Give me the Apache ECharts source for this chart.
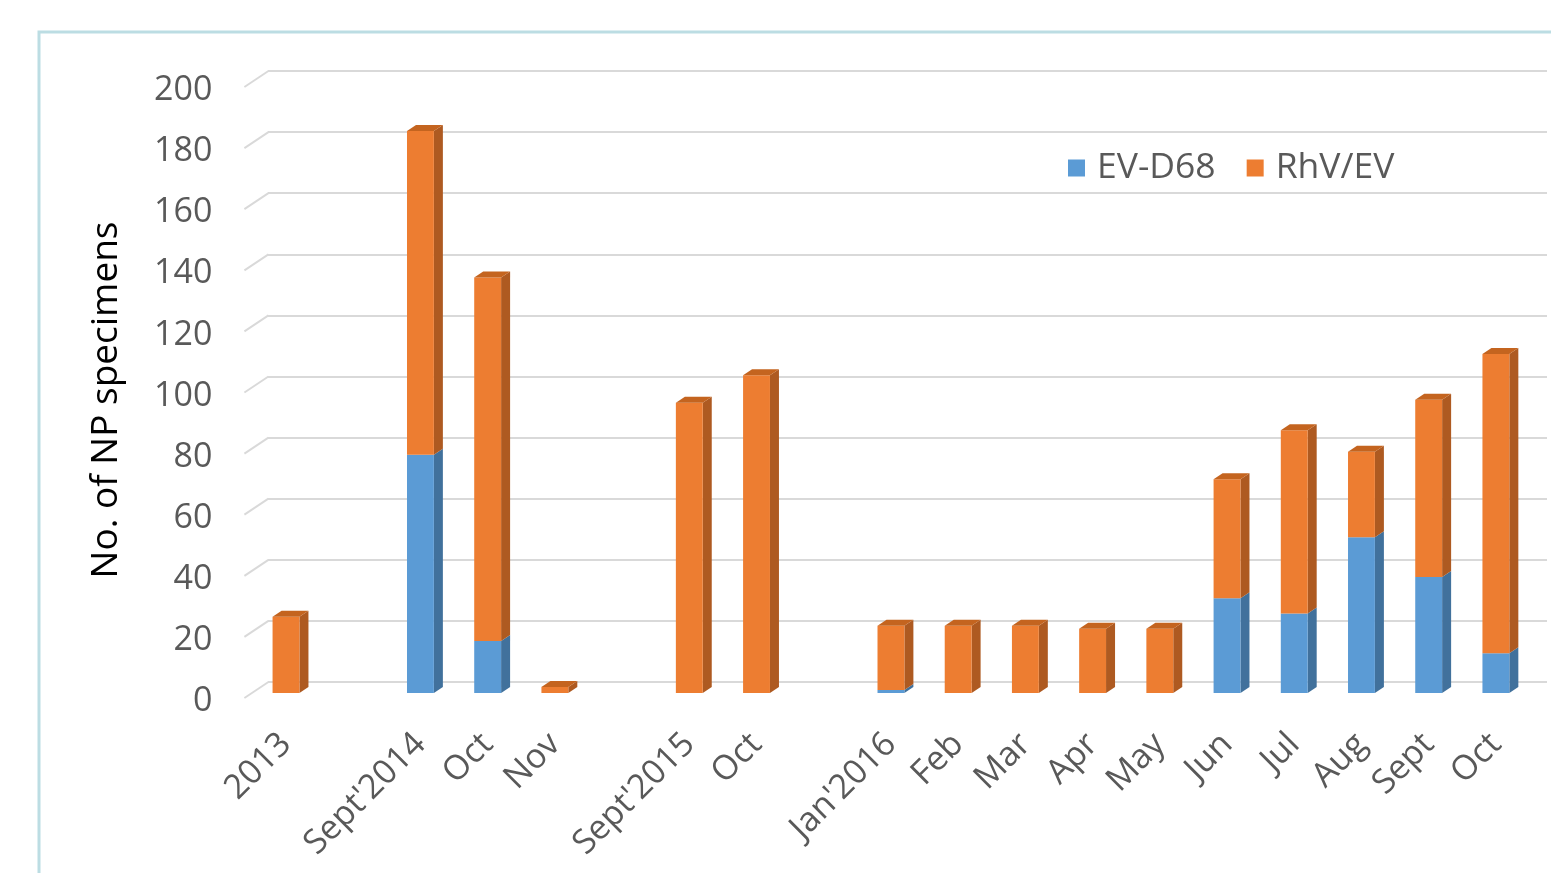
<!DOCTYPE html>
<html lang="en">
<head>
<meta charset="UTF-8">
<title>EV-D68 and RhV/EV NP specimens</title>
<script src="https://cdn.jsdelivr.net/npm/echarts@6/dist/echarts.min.js"></script>
<style>
    html, body { margin: 0; padding: 0; background: #fff; }
    #chart { width: 1551px; height: 873px; }
</style>
</head>
<body>
<div id="chart"></div>
<script>
    // categories, blank ones are the gaps between seasons
    const categories = ['2013', '', "Sept'2014", 'Oct', 'Nov', '', "Sept'2015", 'Oct', '',
        "Jan'2016", 'Feb', 'Mar', 'Apr', 'May', 'Jun', 'Jul', 'Aug', 'Sept', 'Oct'];
    const evD68 = [0, null, 78, 17, 0, null, 0, 0, null, 1, 0, 0, 0, 0, 31, 26, 51, 38, 13];
    const rhvEv = [25, null, 106, 119, 2, null, 95, 104, null, 21, 22, 22, 21, 21, 39, 60, 28, 58, 98];
    const yTicks = [0, 20, 40, 60, 80, 100, 120, 140, 160, 180, 200];

    const FONT = 'Open Sans';
    const LABEL_COLOR = '#595959';
    const GRID_COLOR = '#D9D9D9';
    const DX = 9, DY = -6; // depth of the 3d bars

    // [index, from, to, isTopSegment]
    function stackRows(lower, upper, isUpper) {
        let rows = [];
        categories.forEach(function (c, i) {
            if (upper[i] == null) return;
            let base = isUpper ? (lower[i] || 0) : 0;
            rows.push([i, base, base + upper[i], isUpper ? 1 : 0]);
        });
        return rows;
    }

    function barItem(front, side, top) {
        return function (params, api) {
            let i = api.value(0), lo = api.value(1), hi = api.value(2);
            if (hi <= lo) return null;
            let p0 = api.coord([i, lo]);
            let p1 = api.coord([i, hi]);
            let w = api.size([1, 0])[0] * 0.4;
            let x = p0[0] - w / 2, yb = p0[1], yt = p1[1];
            let children = [
                {
                    type: 'polygon',
                    shape: {points: [[x + w, yt], [x + w + DX, yt + DY], [x + w + DX, yb + DY], [x + w, yb]]},
                    style: {fill: side}
                },
                {
                    type: 'rect',
                    shape: {x: x, y: yt, width: w, height: yb - yt},
                    style: {fill: front}
                }
            ];
            if (api.value(3)) {
                children.push({
                    type: 'polygon',
                    shape: {points: [[x, yt], [x + DX, yt + DY], [x + w + DX, yt + DY], [x + w, yt]]},
                    style: {fill: top}
                });
            }
            return {type: 'group', children: children};
        };
    }

    let option = {
        backgroundColor: '#fff',
        animation: false,
        textStyle: {fontFamily: FONT},
        graphic: [{
            type: 'rect',
            shape: {x: 39, y: 32, width: 1600, height: 900},
            style: {fill: 'none', stroke: '#BCDDE3', lineWidth: 3},
            silent: true
        }],
        legend: {
            data: ['EV-D68', 'RhV/EV'],
            left: 1063,
            top: 145,
            icon: 'rect',
            itemWidth: 17,
            itemHeight: 17,
            itemGap: 31,
            textStyle: {fontSize: 35.5, color: LABEL_COLOR, fontFamily: FONT, padding: [0, 0, 0, 7]}
        },
        grid: [
            // front plane: bars and labels
            {left: 252.4, right: 21.5, top: 82, bottom: 180, outerBoundsMode: 'none'},
            // back wall: gridlines
            {left: 268, right: 4, top: 71, bottom: 191, outerBoundsMode: 'none'}
        ],
        xAxis: [
            {
                type: 'category',
                gridIndex: 0,
                data: categories,
                axisLine: {show: false},
                axisTick: {show: false},
                axisLabel: {
                    interval: 0,
                    rotate: 45,
                    margin: 46,
                    fontSize: 34,
                    color: LABEL_COLOR,
                    fontFamily: FONT
                }
            },
            {type: 'value', gridIndex: 1, show: false, min: 0, max: 1}
        ],
        yAxis: [
            {
                type: 'value',
                gridIndex: 0,
                min: 0,
                max: 200,
                interval: 20,
                name: 'No. of NP specimens',
                nameLocation: 'middle',
                nameGap: 127,
                nameTextStyle: {fontSize: 37, color: '#000', fontFamily: FONT, padding: [0, 25, 0, 0]},
                axisLine: {show: false},
                axisTick: {show: false},
                splitLine: {show: false},
                axisLabel: {
                    margin: 40,
                    fontSize: 34,
                    color: LABEL_COLOR,
                    fontFamily: FONT,
                    verticalAlign: 'top',
                    lineHeight: 17
                }
            },
            {
                type: 'value',
                gridIndex: 1,
                min: 0,
                max: 200,
                interval: 20,
                axisLine: {show: false},
                axisTick: {show: false},
                axisLabel: {show: false},
                splitLine: {show: true, lineStyle: {color: GRID_COLOR, width: 2}}
            }
        ],
        series: [
            {
                // slanted side-wall pieces of the gridlines
                type: 'custom',
                xAxisIndex: 0,
                yAxisIndex: 0,
                silent: true,
                z: 1,
                data: yTicks.map(function (v) { return [0, v]; }),
                renderItem: function (params, api) {
                    let y = api.coord([0, api.value(1)])[1];
                    let x0 = params.coordSys.x;
                    return {
                        type: 'line',
                        shape: {x1: x0 - 8, y1: y + 5, x2: x0 + 16, y2: y - 11},
                        style: {stroke: GRID_COLOR, lineWidth: 2}
                    };
                }
            },
            {
                name: 'EV-D68',
                type: 'custom',
                xAxisIndex: 0,
                yAxisIndex: 0,
                z: 3,
                itemStyle: {color: '#5B9BD5'},
                data: stackRows(null, evD68, false),
                renderItem: barItem('#5B9BD5', '#41719C', '#4A86BC')
            },
            {
                name: 'RhV/EV',
                type: 'custom',
                xAxisIndex: 0,
                yAxisIndex: 0,
                z: 3,
                itemStyle: {color: '#ED7D31'},
                data: stackRows(evD68, rhvEv, true),
                renderItem: barItem('#ED7D31', '#AE5A21', '#C4641F')
            }
        ]
    };

    echarts.init(document.getElementById('chart')).setOption(option);
</script>
</body>
</html>
